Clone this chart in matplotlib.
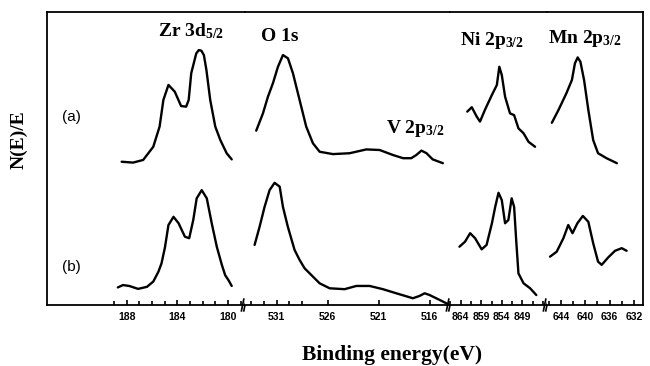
import numpy as np
import matplotlib.pyplot as plt
from matplotlib.ticker import FixedLocator, NullFormatter

plt.rcParams['mathtext.fontset'] = 'custom'
plt.rcParams['mathtext.rm'] = 'Liberation Serif:bold'
plt.rcParams['mathtext.it'] = 'Liberation Serif:bold'
plt.rcParams['mathtext.bf'] = 'Liberation Serif:bold'

# ---- Zr 3d5/2 (binding energy eV, intensity a.u.)
zr_e_a = [188.4, 187.5, 186.7, 185.9, 185.4, 185.1, 184.7, 184.2, 183.7, 183.3,
          183.1, 182.9, 182.5, 182.3, 182.1, 181.9, 181.7, 181.4, 181.0, 180.6, 180.1, 179.7]
zr_i_a = [48.9, 48.6, 49.5, 54.0, 60.9, 70.0, 75.1, 72.8, 67.9, 67.7,
          70.0, 79.1, 85.9, 87.0, 86.8, 85.3, 80.2, 70.0, 60.9, 56.3, 51.8, 49.7]
zr_e_b = [188.7, 188.3, 187.8, 187.1, 186.4, 185.9, 185.5, 185.25, 184.98, 184.7,
          184.3, 183.9, 183.4, 183.06, 182.74, 182.47, 182.07, 181.67, 181.28,
          180.88, 180.48, 180.22, 179.96, 179.7]
zr_i_b = [6.0, 6.8, 6.5, 5.5, 6.2, 8.0, 11.3, 14.2, 19.6, 27.3,
          30.1, 27.9, 23.3, 22.8, 29.0, 36.4, 39.2, 36.4, 27.9,
          19.9, 13.7, 10.2, 8.5, 6.5]

# ---- O 1s + V 2p3/2
o_e_a = [533.0, 532.34, 531.85, 531.36, 530.87, 530.38, 529.89, 529.4, 528.75, 528.1,
         527.44, 526.78, 525.48, 523.84, 522.2, 520.9, 519.6, 518.6, 517.8, 517.3,
         516.8, 516.3, 515.7, 514.7]
o_i_a = [59.5, 65.4, 71.1, 75.7, 81.3, 85.3, 84.2, 79.1, 70.0, 60.9,
         55.2, 52.3, 51.5, 51.8, 53.1, 52.9, 51.2, 50.1, 50.1, 51.2,
         52.7, 51.8, 49.7, 48.4]
o_e_b = [533.16, 532.67, 532.18, 531.69, 531.2, 530.7, 530.38, 529.9, 529.24, 528.75,
         528.25, 527.76, 526.78, 525.8, 524.33, 523.19, 521.88, 520.58, 519.27, 517.64,
         516.98, 516.49, 516.0, 515.0, 514.2]
o_i_b = [20.5, 26.7, 33.5, 39.2, 41.7, 40.4, 33.5, 26.7, 18.8, 15.4,
         12.5, 10.8, 7.4, 5.7, 5.4, 6.5, 6.5, 5.4, 4.0, 2.3,
         3.1, 4.0, 3.4, 1.7, 0.3]

# ---- Ni 2p3/2
ni_e_a = [862.4, 861.3, 860.1, 859.3, 858.1, 856.4, 855.2, 854.6, 854.0, 853.2,
          852.0, 851.0, 849.95, 848.7, 847.5, 845.9]
ni_i_a = [66.0, 67.5, 64.3, 62.6, 66.6, 71.7, 75.1, 81.3, 78.5, 71.1,
          65.4, 64.8, 60.3, 58.6, 55.7, 54.0]
ni_e_b = [864.3, 862.95, 861.7, 860.5, 858.9, 857.7, 856.4, 855.6, 854.8, 854.0,
          853.2, 852.4, 851.6, 851.0, 850.5, 849.95, 848.7, 847.1, 845.6]
ni_i_b = [19.9, 21.6, 24.5, 22.8, 19.0, 20.5, 27.9, 33.5, 38.3, 35.8,
          27.9, 29.0, 36.4, 33.5, 22.2, 10.8, 7.4, 5.7, 3.4]

# ---- Mn 2p3/2
mn_e_a = [645.5, 644.4, 643.1, 642.2, 641.7, 641.25, 640.8, 640.2, 639.5, 638.7,
          637.9, 636.5, 634.8]
mn_i_a = [62.2, 66.6, 72.3, 76.8, 82.5, 84.5, 83.0, 76.8, 66.6, 56.3,
          51.8, 50.1, 48.4]
mn_e_b = [645.8, 644.7, 643.6, 642.8, 642.1, 641.3, 640.4, 639.5, 638.7, 637.9,
          637.3, 636.2, 635.1, 634.0, 633.2]
mn_i_b = [16.5, 18.2, 22.8, 27.3, 24.5, 27.9, 30.4, 28.4, 21.1, 14.8,
          13.7, 16.3, 18.5, 19.4, 18.5]

segments = [
    dict(lim=(194.3, 178.65), major=[188, 184, 180], minor=np.arange(179, 190, 1.0),
         a=(zr_e_a, zr_i_a), b=(zr_e_b, zr_i_b)),
    dict(lim=(534.1, 514.0), major=[531, 526, 521, 516], minor=531 + 1.25 * np.arange(-2, 14),
         a=(o_e_a, o_i_a), b=(o_e_b, o_i_b)),
    dict(lim=(866.6, 843.0), major=[864, 859, 854, 849], minor=864 - 2.5 * np.arange(-1, 9),
         a=(ni_e_a, ni_i_a), b=(ni_e_b, ni_i_b)),
    dict(lim=(646.3, 630.5), major=[644, 640, 636, 632], minor=np.arange(646, 630, -2.0),
         a=(mn_e_a, mn_i_a), b=(mn_e_b, mn_i_b)),
]
widths = [198, 205, 97, 96]

fig = plt.figure(figsize=(6.5, 3.66), dpi=100)
gs = fig.add_gridspec(1, 4, width_ratios=widths, wspace=0,
                      left=47 / 650, right=643 / 650, bottom=61 / 366, top=354 / 366)
axes = [fig.add_subplot(gs[0, i]) for i in range(4)]

for i, (ax, seg) in enumerate(zip(axes, segments)):
    for key in ('a', 'b'):
        e, y = seg[key]
        ax.plot(e, y, color='black', lw=1.7, solid_joinstyle='round', solid_capstyle='round')
    ax.set_xlim(*seg['lim'])
    ax.set_ylim(0, 100)
    ax.set_yticks([])
    ax.xaxis.set_major_locator(FixedLocator(seg['major']))
    ax.xaxis.set_minor_locator(FixedLocator(seg['minor']))
    ax.xaxis.set_minor_formatter(NullFormatter())
    ax.tick_params(axis='x', which='both', direction='in', width=1.2, pad=5,
                   labelsize=7.5)
    ax.tick_params(axis='x', which='major', length=3.5)
    ax.tick_params(axis='x', which='minor', length=3)
    for lab in ax.get_xticklabels():
        lab.set_fontweight('bold')
        lab.set_family('Liberation Sans')
    for s in ax.spines.values():
        s.set_linewidth(1.3)
    if i > 0:
        ax.spines['left'].set_visible(False)
    if i < 3:
        ax.spines['right'].set_visible(False)
        # break marks on the bottom axis
        for off in (-0.012, 0.0):
            dx = 0.006 * 200 / widths[i]
            ax.plot([1 + off * 200 / widths[i] - dx, 1 + off * 200 / widths[i] + dx],
                    [-0.02, 0.02], transform=ax.transAxes, color='black',
                    lw=1.2, clip_on=False)

lab_kw = dict(family='Liberation Serif', fontweight='bold', fontsize=14,
              ha='center', va='baseline')
axes[0].text(182.9, 91.8, r'Zr 3d$_{5/2}$', **lab_kw)
axes[1].text(530.7, 90.2, 'O 1s', **lab_kw)
axes[1].text(517.4, 58.7, r'V 2p$_{3/2}$', **lab_kw)
axes[2].text(856.4, 88.7, r'Ni 2p$_{3/2}$', **lab_kw)
axes[3].text(640.0, 89.4, r'Mn 2p$_{3/2}$', **lab_kw)

axes[0].text(192.4, 64.2, '(a)', family='Liberation Sans', fontsize=11,
             ha='center', va='center')
axes[0].text(192.4, 13.0, '(b)', family='Liberation Sans', fontsize=11,
             ha='center', va='center')

fig.text(19 / 650, 1 - 140 / 366, 'N(E)/E', rotation=90, family='Liberation Serif',
         fontweight='bold', fontsize=14, ha='center', va='center')
fig.text(392 / 650, 1 - 360 / 366, 'Binding energy(eV)', family='Liberation Serif',
         fontweight='bold', fontsize=15.5, ha='center', va='baseline')

fig.savefig('out.png', dpi=100)
